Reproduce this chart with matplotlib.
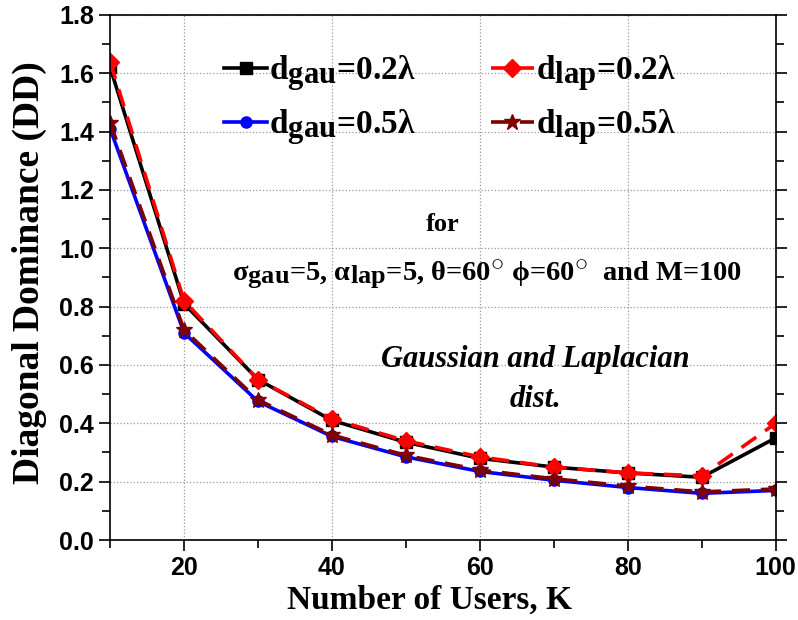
import matplotlib
matplotlib.use('Agg')
import matplotlib.pyplot as plt
import matplotlib._mathtext as mathtext_internal
from matplotlib.ticker import MultipleLocator, FormatStrFormatter
from matplotlib.legend_handler import HandlerLine2D

plt.rcParams['mathtext.fontset'] = 'custom'
plt.rcParams['mathtext.rm'] = 'Liberation Serif:bold'
plt.rcParams['mathtext.it'] = 'Liberation Serif:bold'
plt.rcParams['mathtext.bf'] = 'Liberation Serif:bold'
# subscripts in the original are nearly full size
mathtext_internal.SHRINK_FACTOR = 0.92

users = [10, 20, 30, 40, 50, 60, 70, 80, 90, 100]
gau_02 = [1.62, 0.81, 0.55, 0.41, 0.335, 0.28, 0.25, 0.23, 0.215, 0.35]
lap_02 = [1.64, 0.82, 0.55, 0.415, 0.34, 0.285, 0.25, 0.23, 0.22, 0.40]
gau_05 = [1.41, 0.71, 0.475, 0.355, 0.285, 0.235, 0.205, 0.18, 0.16, 0.17]
lap_05 = [1.43, 0.72, 0.48, 0.36, 0.29, 0.24, 0.21, 0.185, 0.165, 0.175]

serif = 'Liberation Serif'
sans = 'Liberation Sans'


class EndMarker(HandlerLine2D):
    # Origin style legend: marker near the right end of the sample line
    def get_xdata(self, legend, xdescent, ydescent, width, height, fontsize):
        return [-xdescent, -xdescent + width], [-xdescent + 0.8 * width]


fig = plt.figure(figsize=(7.98, 6.2), dpi=100)
ax = fig.add_axes([0.138, 0.129, 0.834, 0.847])

l1, = ax.plot(users, gau_02, color='black', lw=2.6, marker='s', ms=8, label=r'd$_{gau}$=0.2λ')
l2, = ax.plot(users, lap_02, color='red', lw=2.6, ls=(0, (5, 3)), marker='D', ms=9, label=r'd$_{lap}$=0.2λ')
l3, = ax.plot(users, gau_05, color='blue', lw=2.6, marker='o', ms=8, label=r'd$_{gau}$=0.5λ')
l4, = ax.plot(users, lap_05, color='#7f0000', lw=2.6, ls=(0, (5, 3)), marker='*', ms=12, label=r'd$_{lap}$=0.5λ')

ax.set_xlim(10, 100)
ax.set_ylim(0, 1.8)
ax.xaxis.set_major_locator(MultipleLocator(20))
ax.xaxis.set_minor_locator(MultipleLocator(10))
ax.yaxis.set_major_locator(MultipleLocator(0.2))
ax.yaxis.set_minor_locator(MultipleLocator(0.1))
ax.yaxis.set_major_formatter(FormatStrFormatter('%.1f'))
ax.grid(True, which='major', ls=':', color='#999999', lw=0.9)

ax.tick_params(which='both', direction='out', width=1.2)
ax.tick_params(which='major', length=8)
ax.tick_params(which='minor', length=6)
ax.tick_params(axis='y', which='both', right=True)
for lbl in ax.get_xticklabels() + ax.get_yticklabels():
    lbl.set_fontfamily(sans)
    lbl.set_fontweight('bold')
    lbl.set_fontsize(18)
for sp in ax.spines.values():
    sp.set_linewidth(1.2)

ax.set_xlabel('Number of Users, K', fontfamily=serif, fontweight='bold', fontsize=24)
ax.xaxis.set_label_coords(0.48, -0.086)
ax.set_ylabel('Diagonal Dominance (DD)', fontfamily=serif, fontweight='bold', fontsize=27)
ax.yaxis.set_label_coords(-0.095, 0.51)

ax.legend([l1, l3, l2, l4], [l1.get_label(), l3.get_label(), l2.get_label(), l4.get_label()],
          loc='upper left', bbox_to_anchor=(0.146, 0.958), ncol=2, frameon=False, borderpad=0,
          prop={'family': serif, 'weight': 'bold', 'size': 24},
          handler_map={l1: EndMarker(), l2: EndMarker(), l3: EndMarker(), l4: EndMarker()},
          handlelength=1.3, handletextpad=0.05, columnspacing=2.25, labelspacing=0.4)

ax.text(55, 1.08, 'for', fontfamily=serif, fontweight='bold', fontsize=19, ha='center', va='center')
ax.text(61, 0.91, r'σ$_{gau}$=5, α$_{lap}$=5, θ=60$^{\circ}$ ϕ=60$^{\circ}$  and M=100',
        fontfamily=serif, fontweight='bold', fontsize=20.5, ha='center', va='center')
ax.text(67.5, 0.62, 'Gaussian and Laplacian', fontfamily=serif, fontweight='bold', style='italic',
        fontsize=22, ha='center', va='center')
ax.text(67.5, 0.48, 'dist.', fontfamily=serif, fontweight='bold', style='italic',
        fontsize=22, ha='center', va='center')

fig.savefig('out.png', dpi=100)
